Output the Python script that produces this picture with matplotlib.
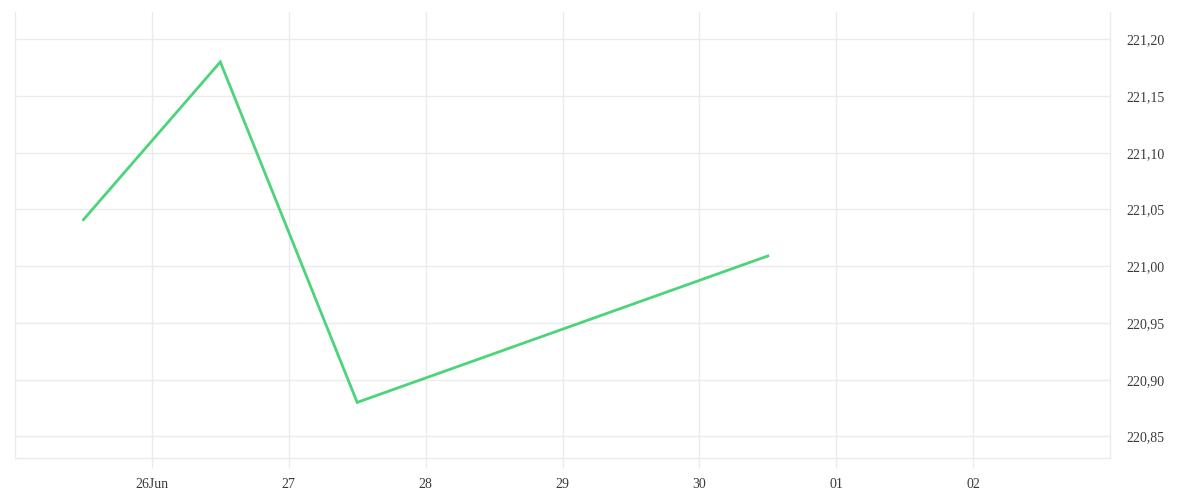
import matplotlib.pyplot as plt
from matplotlib.ticker import FuncFormatter
import pandas as pd

# data (midday points)
dates = pd.to_datetime(['2024-06-25 12:00', '2024-06-26 12:00',
                        '2024-06-27 12:00', '2024-06-30 12:00'])
values = [221.041, 221.180, 220.880, 221.009]

tick_dates = pd.to_datetime(['2024-06-26', '2024-06-27', '2024-06-28', '2024-06-29',
                             '2024-06-30', '2024-07-01', '2024-07-02'])
tick_labels = ['26Jun', '27', '28', '29', '30', '01', '02']
y_ticks = [220.85, 220.90, 220.95, 221.00, 221.05, 221.10, 221.15, 221.20]

grid_col = '#ebebeb'
text_col = '#3a3a3a'

fig = plt.figure(figsize=(12, 5), dpi=100)
ax = fig.add_axes([0.0125, 0.084, 0.9125, 0.892])

ax.plot(dates, values, color='#4cd47a', linewidth=2, solid_joinstyle='miter')

ax.set_xlim(pd.Timestamp('2024-06-25'), pd.Timestamp('2024-07-03'))
ax.set_ylim(220.831, 221.224)

ax.set_xticks(tick_dates)
ax.set_xticklabels(tick_labels)
ax.set_yticks(y_ticks)
ax.yaxis.set_major_formatter(FuncFormatter(lambda v, p: '{:.2f}'.format(v).replace('.', ',')))
ax.yaxis.tick_right()

ax.grid(True, color=grid_col, linewidth=1)
ax.set_axisbelow(True)

for s in ['left', 'right', 'bottom']:
    ax.spines[s].set_color(grid_col)
    ax.spines[s].set_linewidth(1)
ax.spines['top'].set_visible(False)

ax.tick_params(axis='x', length=7.2, width=1, color=grid_col, pad=7.5,
               labelsize=10, labelcolor=text_col)
ax.tick_params(axis='y', length=0, pad=12, labelsize=10, labelcolor=text_col)
for lbl in ax.get_xticklabels() + ax.get_yticklabels():
    lbl.set_family('Liberation Serif')

fig.savefig('out.png', dpi=100, facecolor='white')
